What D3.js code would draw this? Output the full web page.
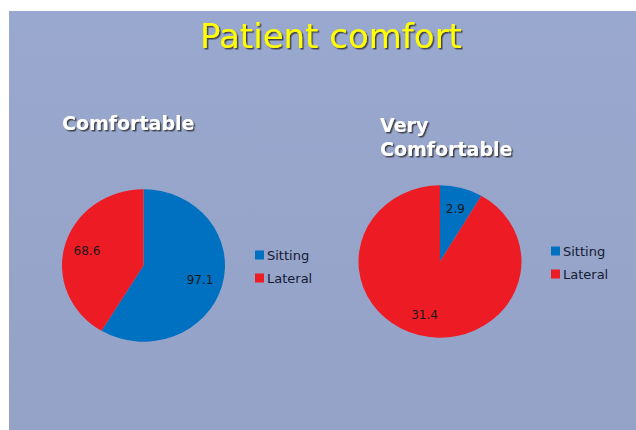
<!DOCTYPE html>
<html>
<head>
<meta charset="utf-8">
<script src="https://cdn.jsdelivr.net/npm/d3@7"></script>
<style>
  body { margin: 0; background: #fff; }
</style>
</head>
<body>
<div id="chart"></div>
<script>
var categories = ["Sitting", "Lateral"];
var comfortable = [97.1, 68.6];
var veryComfortable = [2.9, 31.4];
var chartTitles = [["Comfortable"], ["Very", "Comfortable"]];

var width = 636,
    height = 430;

var color = d3.scaleOrdinal()
  .domain(categories)
  .range(["#0070c0", "#ed1c24"]);

var svg = d3.select("#chart")
  .append("svg")
  .attr("width", width)
  .attr("height", height);

var defs = svg.append("defs");
var grad = defs.append("linearGradient")
  .attr("id", "bg")
  .attr("x1", 0).attr("y1", 0).attr("x2", 0).attr("y2", 1);
grad.append("stop").attr("offset", "0%").attr("stop-color", "#99a8ce");
grad.append("stop").attr("offset", "100%").attr("stop-color", "#95a2c8");

var shadow = defs.append("filter").attr("id", "shadow")
  .attr("x", "-10%").attr("y", "-20%").attr("width", "130%").attr("height", "150%");
shadow.append("feDropShadow")
  .attr("dx", 1.5).attr("dy", 1.5).attr("stdDeviation", 0.6)
  .attr("flood-color", "#333").attr("flood-opacity", 0.85);

// slide background
svg.append("rect")
  .attr("x", 9).attr("y", 11)
  .attr("width", width - 9).attr("height", height - 11)
  .style("fill", "url(#bg)");

svg.append("text")
  .attr("x", 331)
  .attr("y", 48)
  .attr("text-anchor", "middle")
  .style("font-family", "Tahoma, 'DejaVu Sans', sans-serif")
  .style("font-size", "34px")
  .style("fill", "#ffff00")
  .attr("filter", "url(#shadow)")
  .text("Patient comfort");

// the slide is a little squashed vertically, so pies are drawn as ellipses
var radius = 81.5,
    squash = 0.935;

var pie = d3.pie()
  .sort(null)
  .value(function(d) { return d; });

var arc = d3.arc()
  .outerRadius(radius)
  .innerRadius(0);

var labelArc = d3.arc()
  .outerRadius(radius * 0.72)
  .innerRadius(radius * 0.72);

var charts = [
  { data: comfortable, cx: 143.5, cy: 265.5, tx: 62, ty: 130, lx: 255, ly: 255 },
  { data: veryComfortable, cx: 440, cy: 261.5, tx: 380, ty: 132, lx: 551, ly: 251 }
];

charts.forEach(function(c, ci) {
  var g = svg.append("g")
    .attr("transform", "translate(" + c.cx + "," + c.cy + ")");

  var slices = g.selectAll(".arc")
    .data(pie(c.data))
    .enter()
    .append("g")
    .attr("class", "arc");

  slices.append("path")
    .attr("d", arc)
    .attr("transform", "scale(1," + squash + ")")
    .style("fill", function(d, i) { return color(categories[i]); });

  slices.append("text")
    .attr("transform", function(d) {
      var p = labelArc.centroid(d);
      return "translate(" + p[0] + "," + p[1] * squash + ")";
    })
    .attr("text-anchor", "middle")
    .attr("dy", "0.35em")
    .style("font-family", "'DejaVu Sans', sans-serif")
    .style("font-size", "12px")
    .style("fill", "#1a1a1a")
    .text(function(d) { return d.data; });

  // chart title
  var t = svg.append("text")
    .attr("x", c.tx)
    .attr("y", c.ty)
    .style("font-family", "Tahoma, 'DejaVu Sans', sans-serif")
    .style("font-weight", "bold")
    .style("font-size", "19px")
    .style("fill", "#ffffff")
    .attr("filter", "url(#shadow)");
  chartTitles[ci].forEach(function(line, li) {
    t.append("tspan")
      .attr("x", c.tx)
      .attr("dy", li === 0 ? 0 : 24)
      .text(line);
  });

  // legend
  var leg = svg.append("g")
    .attr("transform", "translate(" + c.lx + "," + c.ly + ")");
  var items = leg.selectAll(".item")
    .data(categories)
    .enter()
    .append("g")
    .attr("transform", function(d, i) { return "translate(0," + i * 23 + ")"; });
  items.append("rect")
    .attr("x", 0).attr("y", -4.5)
    .attr("width", 9).attr("height", 9)
    .style("fill", function(d) { return color(d); });
  items.append("text")
    .attr("x", 12)
    .attr("dy", "0.35em")
    .style("font-family", "Tahoma, 'DejaVu Sans', sans-serif")
    .style("font-size", "13px")
    .style("fill", "#141a33")
    .text(function(d) { return d; });
});
</script>
</body>
</html>
